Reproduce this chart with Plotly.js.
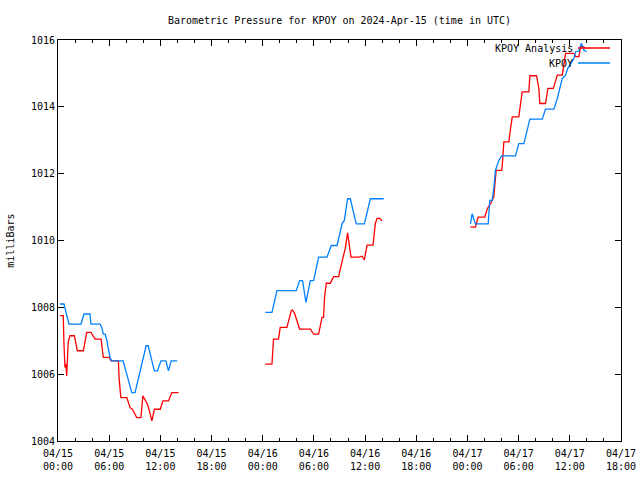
<!DOCTYPE html>
<html>
<head>
<meta charset="utf-8">
<script src="https://cdn.plot.ly/plotly-3.0.1.min.js"></script>
<style>html,body{margin:0;padding:0;background:#fff;}#chart{width:640px;height:480px;}</style>
</head>
<body>
<div id="chart"></div>
<script>
// KPOY Analysis (red)
const analysisTimes = [
  "2024-04-15 00:14","2024-04-15 00:37","2024-04-15 00:42","2024-04-15 00:49","2024-04-15 00:56","2024-04-15 01:01",
  "2024-04-15 01:12","2024-04-15 01:24","2024-04-15 01:55","2024-04-15 02:16","2024-04-15 02:58","2024-04-15 03:22",
  "2024-04-15 03:52","2024-04-15 04:21","2024-04-15 05:03","2024-04-15 05:19","2024-04-15 06:01","2024-04-15 06:13",
  "2024-04-15 07:05","2024-04-15 07:10","2024-04-15 07:22","2024-04-15 08:04","2024-04-15 08:27","2024-04-15 08:43",
  "2024-04-15 09:14","2024-04-15 09:43","2024-04-15 09:57","2024-04-15 10:13","2024-04-15 10:29","2024-04-15 10:43",
  "2024-04-15 11:00","2024-04-15 11:18","2024-04-15 11:59","2024-04-15 12:18","2024-04-15 12:57","2024-04-15 13:21",
  "2024-04-15 14:08",
  null,
  "2024-04-16 00:18","2024-04-16 01:05","2024-04-16 01:16","2024-04-16 01:51","2024-04-16 02:03","2024-04-16 02:50",
  "2024-04-16 03:21","2024-04-16 03:30","2024-04-16 03:44","2024-04-16 04:01","2024-04-16 04:19","2024-04-16 05:35",
  "2024-04-16 05:58","2024-04-16 06:33","2024-04-16 06:57","2024-04-16 07:08","2024-04-16 07:15","2024-04-16 07:27",
  "2024-04-16 07:55","2024-04-16 08:19","2024-04-16 08:54","2024-04-16 09:11","2024-04-16 09:29","2024-04-16 09:41",
  "2024-04-16 09:57","2024-04-16 10:11","2024-04-16 10:21","2024-04-16 11:15","2024-04-16 11:39","2024-04-16 11:55",
  "2024-04-16 12:14","2024-04-16 12:56","2024-04-16 13:12","2024-04-16 13:24","2024-04-16 13:43","2024-04-16 13:59",
  null,
  "2024-04-17 00:21","2024-04-17 00:56","2024-04-17 01:15","2024-04-17 02:02","2024-04-17 02:19","2024-04-17 02:42",
  "2024-04-17 03:05","2024-04-17 03:22","2024-04-17 04:00","2024-04-17 04:04","2024-04-17 04:16","2024-04-17 04:51",
  "2024-04-17 05:03","2024-04-17 05:15","2024-04-17 06:01","2024-04-17 06:25","2024-04-17 07:12","2024-04-17 07:19",
  "2024-04-17 08:06","2024-04-17 08:22","2024-04-17 08:29","2024-04-17 09:09","2024-04-17 09:26","2024-04-17 10:04",
  "2024-04-17 10:32","2024-04-17 11:07","2024-04-17 11:30","2024-04-17 12:29","2024-04-17 12:41","2024-04-17 13:04",
  "2024-04-17 13:16","2024-04-17 13:35","2024-04-17 13:51"
];
const analysisPressure = [
  1007.75,1007.75,1006.9,1006.2,1006.3,1005.95,
  1006.95,1007.15,1007.15,1006.7,1006.7,1007.25,
  1007.25,1007.05,1007.05,1006.5,1006.5,1006.4,
  1006.4,1005.85,1005.3,1005.3,1005.0,1004.95,
  1004.7,1004.7,1005.35,1005.2,1005.1,1004.9,
  1004.6,1004.95,1004.95,1005.2,1005.2,1005.45,
  1005.45,
  null,
  1006.3,1006.3,1007.05,1007.05,1007.4,1007.4,
  1007.9,1007.92,1007.82,1007.55,1007.35,1007.35,
  1007.2,1007.2,1007.7,1007.7,1008.3,1008.72,
  1008.72,1008.92,1008.92,1009.25,1009.57,1009.77,
  1010.23,1009.86,1009.5,1009.5,1009.53,1009.42,
  1009.86,1009.86,1010.51,1010.66,1010.66,1010.59,
  null,
  1010.4,1010.4,1010.7,1010.7,1010.95,1011.1,
  1011.3,1012.1,1012.1,1012.2,1012.95,1012.95,
  1013.35,1013.7,1013.7,1014.45,1014.45,1014.93,
  1014.93,1014.55,1014.1,1014.1,1014.55,1014.55,
  1014.95,1014.95,1015.6,1015.6,1015.5,1015.5,
  1015.8,1015.8,1015.75
];
// KPOY observations (blue)
const obsTimes = [
  "2024-04-15 00:14","2024-04-15 00:42","2024-04-15 01:17","2024-04-15 02:42","2024-04-15 03:03","2024-04-15 03:45",
  "2024-04-15 03:52","2024-04-15 04:56","2024-04-15 05:08","2024-04-15 05:19","2024-04-15 05:31","2024-04-15 05:45",
  "2024-04-15 05:52","2024-04-15 06:06","2024-04-15 06:18","2024-04-15 07:38","2024-04-15 08:39","2024-04-15 09:02",
  "2024-04-15 10:20","2024-04-15 10:34","2024-04-15 11:18","2024-04-15 11:40","2024-04-15 12:04","2024-04-15 12:39",
  "2024-04-15 12:57","2024-04-15 13:16","2024-04-15 13:58",
  null,
  "2024-04-16 00:18","2024-04-16 01:05","2024-04-16 01:40","2024-04-16 03:56","2024-04-16 04:19","2024-04-16 04:40",
  "2024-04-16 05:04","2024-04-16 05:35","2024-04-16 05:58","2024-04-16 06:33","2024-04-16 07:32","2024-04-16 08:02",
  "2024-04-16 08:43","2024-04-16 09:18","2024-04-16 09:34","2024-04-16 09:57","2024-04-16 10:16","2024-04-16 10:58",
  "2024-04-16 11:55","2024-04-16 12:37","2024-04-16 14:11",
  null,
  "2024-04-17 00:21","2024-04-17 00:33","2024-04-17 00:44","2024-04-17 00:56","2024-04-17 02:26","2024-04-17 02:37",
  "2024-04-17 02:54","2024-04-17 03:05","2024-04-17 03:17","2024-04-17 03:41","2024-04-17 04:00","2024-04-17 05:38",
  "2024-04-17 06:01","2024-04-17 06:37","2024-04-17 07:19","2024-04-17 08:46","2024-04-17 09:09","2024-04-17 10:08",
  "2024-04-17 10:32","2024-04-17 11:07","2024-04-17 11:30","2024-04-17 11:46","2024-04-17 12:29","2024-04-17 12:41",
  "2024-04-17 13:04","2024-04-17 13:21","2024-04-17 13:39","2024-04-17 13:58"
];
const obsPressure = [
  1008.1,1008.1,1007.5,1007.5,1007.8,1007.8,
  1007.5,1007.5,1007.4,1007.2,1007.2,1007.0,
  1006.8,1006.5,1006.4,1006.4,1005.45,1005.45,
  1006.85,1006.85,1006.1,1006.1,1006.4,1006.4,
  1006.1,1006.4,1006.4,
  null,
  1007.85,1007.85,1008.5,1008.5,1008.8,1008.8,
  1008.15,1008.8,1008.8,1009.5,1009.5,1009.85,
  1009.85,1010.5,1010.6,1011.25,1011.25,1010.5,
  1010.5,1011.25,1011.25,
  null,
  1010.5,1010.8,1010.65,1010.5,1010.5,1011.2,
  1011.2,1011.55,1012.1,1012.4,1012.53,1012.53,
  1012.9,1012.9,1013.63,1013.63,1013.93,1013.93,
  1014.25,1014.85,1014.95,1015.15,1015.45,1015.65,
  1015.67,1015.9,1015.7,1015.65
];
const seriesNames = ["KPOY Analysis", "KPOY"];
const seriesColors = ["#ff0000", "#0080ff"];
const chartTitle = "Barometric Pressure for KPOY on 2024-Apr-15 (time in UTC)";
const yTitle = "milliBars";
const xRange = ["2024-04-15 00:00", "2024-04-17 18:00"];
const yRange = [1004, 1016];

const FONT = {family: "DejaVu Sans Mono, Liberation Mono, monospace", size: 10, color: "#000"};

const traces = [
  {x: analysisTimes, y: analysisPressure, type: "scatter", mode: "lines", name: seriesNames[0],
   line: {color: seriesColors[0], width: 1.3}, connectgaps: false, showlegend: false},
  {x: obsTimes, y: obsPressure, type: "scatter", mode: "lines", name: seriesNames[1],
   line: {color: seriesColors[1], width: 1.3}, connectgaps: false, showlegend: false}
];

const legendRows = [0.980, 0.9426];
const annotations = seriesNames.map((n, i) => ({
  xref: "paper", yref: "paper", x: 0.918, y: legendRows[i], xanchor: "right", yanchor: "middle",
  text: n, showarrow: false, font: FONT
}));
annotations.push({
  xref: "paper", yref: "paper", x: -0.085, y: 0.5, xanchor: "center", yanchor: "middle",
  text: yTitle, textangle: -90, showarrow: false, font: FONT
});
const shapes = seriesNames.map((n, i) => ({
  type: "line", xref: "paper", yref: "paper", x0: 0.9236, x1: 0.9805, y0: legendRows[i], y1: legendRows[i],
  line: {color: seriesColors[i], width: 1.3}
}));

const layout = {
  width: 640, height: 480,
  margin: {l: 58, r: 19, t: 40, b: 39, pad: 0},
  paper_bgcolor: "#fff", plot_bgcolor: "#fff",
  font: FONT,
  title: {text: chartTitle, font: FONT, x: 0.5, xref: "paper", y: 1 - 20/480, yref: "container", yanchor: "middle"},
  xaxis: {
    type: "date", range: xRange, tick0: "2024-04-15 00:00", dtick: 6*3600000,
    tickformat: "%m/%d<br>%H:%M", ticks: "inside", ticklen: 6, tickcolor: "#000", tickwidth: 1,
    showline: true, linecolor: "#000", linewidth: 1, mirror: "allticks", showgrid: false, zeroline: false,
    tickfont: FONT, ticklabelstandoff: 3,
    minor: {dtick: 2*3600000, tick0: "2024-04-15 00:00", ticks: "inside", ticklen: 3, tickcolor: "#000", showgrid: false}
  },
  yaxis: {
    range: yRange, dtick: 2, tick0: 1004, ticks: "inside", ticklen: 6, tickcolor: "#000", tickwidth: 1,
    showline: true, linecolor: "#000", linewidth: 1, mirror: "allticks", showgrid: false, zeroline: false,
    tickfont: FONT, tickformat: "d"
  },
  annotations: annotations,
  shapes: shapes,
  showlegend: false
};

Plotly.newPlot("chart", traces, layout, {displayModeBar: false, staticPlot: true});
</script>
</body>
</html>
